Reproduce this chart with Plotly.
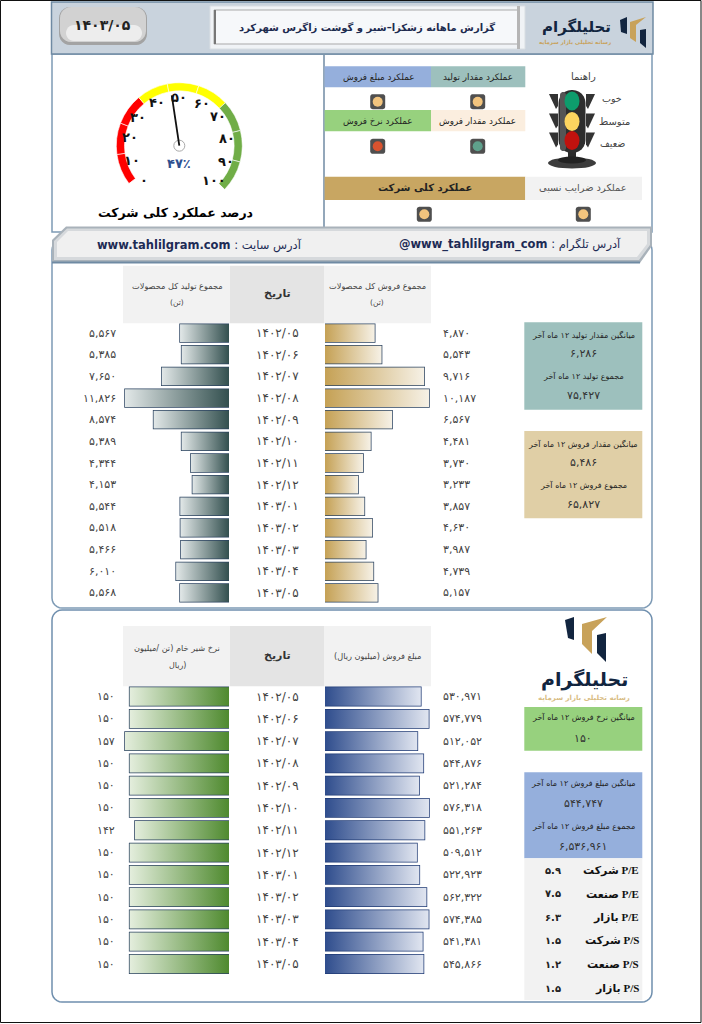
import plotly.graph_objects as go
import math

# ---------- data ----------
dates = ["۱۴۰۲/۰۵","۱۴۰۲/۰۶","۱۴۰۲/۰۷","۱۴۰۲/۰۸","۱۴۰۲/۰۹","۱۴۰۲/۱۰","۱۴۰۲/۱۱","۱۴۰۲/۱۲","۱۴۰۳/۰۱","۱۴۰۳/۰۲","۱۴۰۳/۰۳","۱۴۰۳/۰۴","۱۴۰۳/۰۵"]
production = [5567,5385,7650,11826,8574,5389,4344,4153,5544,5518,5466,6010,5568]
sales_qty = [4870,5543,9716,10187,6567,4481,3730,3233,3857,4630,3987,4739,5157]
milk_rate = [150,150,157,150,150,150,142,150,150,150,150,150,150]
sales_amount = [530971,574779,512052,544876,521284,576318,551263,509512,522923,562322,574385,541381,545866]
gauge_segments = [1,1,1,1,1,1,1,1,1]
gauge_value = 47
ratio_labels = ["شرکت P/E","صنعت P/E","بازار P/E","شرکت P/S","صنعت P/S","بازار P/S"]
ratio_values = ["۵.۹","۷.۵","۶.۳","۱.۵","۱.۲","۱.۵"]

FA = str.maketrans("0123456789","۰۱۲۳۴۵۶۷۸۹")
def fa(n): return f"{n:,}".translate(FA)

W,H = 702,1024
FONT = "DejaVu Sans"
PX = lambda x: x/W
PY = lambda y: 1-y/H

fig = go.Figure()
shapes, ann = [], []

def rect(x0,y0,x1,y1,fill=None,line=None,lw=0,layer="below"):
    shapes.append(dict(type="rect",xref="paper",yref="paper",x0=PX(x0),x1=PX(x1),y0=PY(y1),y1=PY(y0),
        fillcolor=fill or "rgba(0,0,0,0)",line=dict(color=line or "rgba(0,0,0,0)",width=lw),layer=layer))
def poly(pts,fill=None,line=None,lw=0,layer="below"):
    d="M "+" L ".join(f"{PX(x):.5f},{PY(y):.5f}" for x,y in pts)+" Z"
    shapes.append(dict(type="path",xref="paper",yref="paper",path=d,fillcolor=fill or "rgba(0,0,0,0)",
        line=dict(color=line or "rgba(0,0,0,0)",width=lw),layer=layer))
def rrect(x0,y0,x1,y1,r,fill=None,line=None,lw=0,layer="below"):
    pts=[]
    for cx,cy,a0 in ((x1-r,y0+r,-90),(x1-r,y1-r,0),(x0+r,y1-r,90),(x0+r,y0+r,180)):
        for k in range(7):
            a=math.radians(a0+k*15)
            pts.append((cx+r*math.cos(a),cy+r*math.sin(a)))
    poly(pts,fill,line,lw,layer)
def oval(cx,cy,rx,ry,fill,line=None,lw=0,layer="above"):
    shapes.append(dict(type="circle",xref="paper",yref="paper",x0=PX(cx-rx),x1=PX(cx+rx),y0=PY(cy+ry),y1=PY(cy-ry),
        fillcolor=fill,line=dict(color=line or "rgba(0,0,0,0)",width=lw),layer=layer))
def seg(x0,y0,x1,y1,color,lw,layer="above"):
    shapes.append(dict(type="line",xref="paper",yref="paper",x0=PX(x0),x1=PX(x1),y0=PY(y0),y1=PY(y1),
        line=dict(color=color,width=lw),layer=layer))
def txt(x,y,s,size=9,color="#333333",bold=False,anchor="center",font=FONT):
    if bold: s=f"<b>{s}</b>"
    ann.append(dict(xref="paper",yref="paper",x=PX(x),y=PY(y),text=s,showarrow=False,xanchor=anchor,yanchor="middle",
        font=dict(family=font,size=size,color=color),align=anchor))

# ---------- frame ----------
rect(0.5,0.5,701,1022.5,"#ffffff","#111111",1)

# panels
BORDER="#7d9ab5"
rrect(52,240,652,608,10,"#ffffff",BORDER,1.5)
rrect(52,610,652,1002,10,"#ffffff","#6f8fae",1.5)
rect(52,54,652,232,"#ffffff",BORDER,1.5)
seg(324,55,324,228,"#6f8aa3",1.5,"below")

# header band
rect(51.5,2,653,54,"#c9d3dd","#6f8aa3",1.5)
rrect(59,7,147,45,11,"#a3a3a3")
rrect(60,7,146,42,11,"#d2d2d2")
rrect(66,25,142,41,8,"#ededed")
txt(102,25,"۱۴۰۳/۰۵",14,"#222222",True)
rect(210,6,525,49,"#f0f3f6","#d9dee3",1)
rect(214,10,518,44,"#f6f8fa","#a9a9a9",1)
rect(214,10,216,44,"#777777")
rect(517,6,520,49,"#b5b5b5")
txt(367,27,"گزارش ماهانه زشکزا–شیر و گوشت زاگرس شهرکرد",10,"#1d2b4f",True)

# header logo
GOLD="#c8a25a"; NAVY="#12253f"
poly([(620,20),(627,17),(627,34),(621,32)],NAVY)
poly([(630,22),(646,17),(636,25),(636,42),(630,38)],GOLD)
poly([(640,30),(646,29),(646,48),(640,43)],NAVY)
txt(576,27,"تحلیلگرام",15,NAVY,True)
txt(575,42,"رسانه تحلیلی بازار سرمایه",5.5,GOLD,True)

# banner
poly([(52,240),(66,226.5),(652,226.5),(652,246),(640,263),(52,263)],"#a9b2ba")
poly([(54,241),(67,228.5),(650,228.5),(650,245),(639,260),(54,260)],"#d6d9dc")
poly([(57,242),(68,231),(647,231),(647,244),(637,257),(57,257)],"#f0f0f0")
seg(52,262.5,640,262.5,"#6f8aa3",2,"below")
txt(95,245,"<b>www.tahlilgram.com</b> : آدرس سایت",11.5,"#1d2b55",anchor="left")
txt(397,244,"<b>@www_tahlilgram_com</b> : آدرس تلگرام",11.5,"#1d2b55",anchor="left")

# ---------- gauge (pie on its own domain) ----------
GC,GR=(179.3,145.7),63
START=-127; SWEEP=261
n=sum(gauge_segments)
hidden=n*(360-SWEEP)/SWEEP
fig.add_trace(go.Pie(values=gauge_segments+[hidden],sort=False,direction="clockwise",rotation=360+START,hole=0.87,
    domain=dict(x=[PX(GC[0]-GR),PX(GC[0]+GR)],y=[PY(GC[1]+GR),PY(GC[1]-GR)]),
    marker=dict(colors=["#ff0000"]*3+["#ffff00"]*3+["#70ad47"]*3+["rgba(0,0,0,0)"],line=dict(color="rgba(255,255,255,0.75)",width=0.8)),
    textinfo="none",hoverinfo="skip",showlegend=False))
glabels=[("۰",144,180),("۱۰",132,160),("۲۰",130,137),("۳۰",138,117),("۴۰",157,102),("۵۰",179,97),("۶۰",202,103),("۷۰",218,116),("۸۰",227,138),("۹۰",226,161),("۱۰۰",214,180)]
for s,x,y in glabels: txt(x,y,s,13,"#111111",True)
ang=math.radians(-126+gauge_value*2.5)
oval(GC[0],GC[1],5.5,5.5,"#ffffff","#a9a9a9",1)
seg(GC[0],GC[1],GC[0]+51*math.sin(ang),GC[1]-51*math.cos(ang),"#111111",1.8)
txt(179,163,"۴۷٪",13,"#2f4f8f",True)
txt(175,212,"درصد عملکرد کلی شرکت",12.5,"#000000",True)

# ---------- performance table ----------
rect(431,66.3,525.3,87.3,"#9dc0bd"); rect(324.6,66.3,431,87.3,"#95afdc")
rect(431,110,525.3,131.3,"#fbeedf"); rect(324.6,110,431,131.3,"#97d17e")
rect(324.6,176.7,525.3,200,"#c8a662"); rect(525.3,176.7,642,200,"#f2f2f2")
txt(478,77,"عملکرد مقدار تولید",8.8,"#222222")
txt(378,77,"عملکرد مبلغ فروش",8.8,"#222222")
txt(478,121,"عملکرد مقدار فروش",8.8,"#222222")
txt(378,121,"عملکرد نرخ فروش",8.8,"#222222")
txt(425,187.5,"عملکرد کلی شرکت",10,"#222222",True)
txt(583,187.5,"عملکرد ضرایب نسبی",9.8,"#555555")
for cx,cy,c in [(377.7,101.7,"#f2c47e"),(477.7,101.7,"#f2c47e"),(377.7,146.3,"#d9532f"),(477.7,146.3,"#5fa08c"),(424.3,214.3,"#f2c47e"),(583.3,214.3,"#f2c47e")]:
    rrect(cx-7.5,cy-7.5,cx+7.5,cy+7.5,2.5,"#4f4f4f")
    oval(cx,cy,5,5,c)

# traffic light
for y in (94,113.5,132.5):
    poly([(549,y),(558,y),(558,y+12),(556,y+15)],"#333333")
    poly([(595,y),(586,y),(586,y+12),(588,y+15)],"#333333")
oval(572,163,24,5.5,"#3c3c3c")
oval(572,160,14,3.5,"#222222")
rect(568,150,576,162,"#2c2c2c")
rrect(558.5,90,585.5,153,13,"#2e2e2e")
rrect(560,92,566,151,3,"#555555")
oval(572,101,7.5,9.5,"#0d9c6c"); oval(572,121.5,7.5,9.5,"#fdd55f"); oval(572,140.5,7.5,9.5,"#c1120e")
txt(583,76.5,"راهنما",10,"#444444")
txt(612,98,"خوب",9.5,"#444444")
txt(614,121,"متوسط",10,"#444444")
txt(612,143,"ضعیف",9.5,"#444444")

# ---------- bar panels ----------
def panel(values,dom_px,rng,row_top,row_bot,idx,grad,line,bar_frac,val_x,val_anchor,side):
    xn=f"xaxis{idx}"; yn=f"yaxis{idx}"
    fig.layout[xn]=dict(domain=[PX(dom_px[0]),PX(dom_px[1])],range=rng,visible=False,anchor=f"y{idx}",fixedrange=True)
    fig.layout[yn]=dict(domain=[PY(row_bot),PY(row_top)],range=[len(values)-0.5,-0.5],visible=False,anchor=f"x{idx}",fixedrange=True)
    h=bar_frac/2
    for i,v in enumerate(values):
        fig.add_trace(go.Scatter(x=[0,v,v,0,0],y=[i-h,i-h,i+h,i+h,i-h],mode="lines",fill="toself",line=dict(width=0,color="rgba(0,0,0,0)"),
            fillgradient=dict(type="horizontal",colorscale=[[0,grad[0]],[1,grad[1]]],start=0,stop=v),
            xaxis=f"x{idx}",yaxis=f"y{idx}",hoverinfo="skip",showlegend=False))
    fig.add_trace(go.Bar(x=values,y=list(range(len(values))),orientation="h",width=bar_frac,base=0,
        marker=dict(color="rgba(0,0,0,0)",line=dict(color=line,width=1.5)),xaxis=f"x{idx}",yaxis=f"y{idx}",hoverinfo="skip",showlegend=False))
    for i,v in enumerate(values):
        ann.append(dict(xref="paper",yref=f"y{idx}",x=PX(val_x),y=i,text=fa(v),showarrow=False,xanchor=val_anchor,yanchor="middle",
            font=dict(family=FONT,size=11,color="#444444")))
        if side=="L":
            ann.append(dict(xref="paper",yref=f"y{idx}",x=PX(277),y=i,text=dates[i],showarrow=False,xanchor="center",yanchor="middle",
                font=dict(family=FONT,size=12,color="#444444")))

# section headers
for top,bot in ((265.7,323.3),(626,686.3)):
    rect(123,top,230,bot,"#f2f2f2"); rect(230,top,324,bot,"#e4e4e4"); rect(324,top,431,bot,"#f2f2f2")
    txt(277,(top+bot)/2-1,"تاریخ",11,"#333333",True)
txt(177,286,"مجموع تولید کل محصولات",8.2,"#444444"); txt(177,302,"(تن)",7.5,"#444444")
txt(377,286,"مجموع فروش کل محصولات",8.2,"#444444"); txt(377,302,"(تن)",7.5,"#444444")
txt(177,648,"نرخ شیر خام (تن /میلیون",8.2,"#444444"); txt(177,665,"ریال)",8,"#444444")
txt(377,656,"مبلغ فروش (میلیون ریال)",8.2,"#444444")

BAR_LINE="#2b4360"
panel(production,(124,229),[11940,0],322.2,603.8,1,("#33504f","#e2e8e8"),BAR_LINE,0.82,118,"right","L")
panel(sales_qty,(325,430),[0,10285],322.2,603.8,2,("#c5a155","#f6f1e6"),BAR_LINE,0.82,441,"left","R")
panel(milk_rate,(124,229),[158.5,0],685.35,975.15,3,("#4f8a2f","#e4eedd"),BAR_LINE,0.82,117,"right","L")
panel(sales_amount,(325,430),[0,581860],685.35,975.15,4,("#2f4d8d","#e0e5f0"),"#1f3a74",0.82,441,"left","R")

# info boxes
rect(524.3,322.3,642.3,409.7,"#9dc0bd")
txt(583,335,"میانگین مقدار تولید ۱۲ ماه آخر",8,"#222222"); txt(583,353,"۶,۲۸۶",11,"#333333")
txt(583,376,"مجموع تولید ۱۲ ماه آخر",8,"#222222"); txt(583,395,"۷۵,۴۲۷",11,"#333333")
rect(524.3,431,642.3,518.3,"#e0cfa6")
txt(583,443.5,"میانگین مقدار فروش ۱۲ ماه آخر",8,"#222222"); txt(583,462,"۵,۴۸۶",11,"#333333")
txt(583,485,"مجموع فروش ۱۲ ماه آخر",8,"#222222"); txt(583,504,"۶۵,۸۲۷",11,"#333333")
rect(524.3,707,642.3,750.7,"#97d17e")
txt(583,717,"میانگین نرخ فروش ۱۲ ماه آخر",8,"#222222"); txt(583,738,"۱۵۰",11,"#333333")
rect(524.3,772.3,642.3,858.3,"#95afdc")
txt(583,783,"میانگین مبلغ فروش ۱۲ ماه آخر",8,"#222222"); txt(583,803,"۵۴۴,۷۴۷",11,"#333333")
txt(583,826,"مجموع مبلغ فروش ۱۲ ماه آخر",8,"#222222"); txt(583,846,"۶,۵۳۶,۹۶۱",11,"#333333")
rect(524.3,858.3,642.3,1000,"#f2f2f2")
for i,(lab,val) in enumerate(zip(ratio_labels,ratio_values)):
    y=870+i*23.6
    txt(641,y,lab,11,"#111111",True,"right",font="Liberation Serif, DejaVu Sans")
    txt(553,y,val,10,"#222222",True)

# section logo
poly([(565,620),(574,617),(574,640),(568,638)],NAVY)
poly([(582,624),(607,617),(592,631),(592,654),(582,644)],GOLD)
poly([(597,635),(606,633),(606,662),(597,653)],NAVY)
txt(584,679,"تحلیلگرام",19,NAVY,True)
txt(584,698,"رسانه تحلیلی بازار سرمایه",7,"#d9bd85",True)

fig.update_layout(width=W,height=H,margin=dict(l=0,r=0,t=0,b=0),paper_bgcolor="#ffffff",plot_bgcolor="rgba(0,0,0,0)",
    showlegend=False,barmode="overlay",shapes=shapes,annotations=ann,font=dict(family=FONT))
fig.write_html("out.html",config=dict(displayModeBar=False),
    post_script="document.body.style.margin='0';document.documentElement.style.overflow='hidden';")
